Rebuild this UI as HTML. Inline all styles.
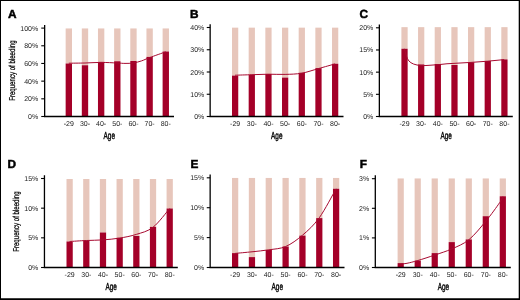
<!DOCTYPE html>
<html><head><meta charset="utf-8"><style>
html,body{margin:0;padding:0;background:#fff;}
body{width:520px;height:300px;overflow:hidden;position:relative;font-family:"Liberation Sans",sans-serif;}
svg{position:absolute;left:0;top:0;will-change:transform;}
text{text-rendering:geometricPrecision;}
.t{font-family:"Liberation Sans",sans-serif;font-size:7.0px;fill:#1c1c1c;}
.c{font-family:"Liberation Sans",sans-serif;font-size:10.2px;fill:#000;stroke:#000;stroke-width:0.4px;}
.y{font-family:"Liberation Sans",sans-serif;font-size:8.6px;fill:#000;stroke:#000;stroke-width:0.26px;}
.L{font-family:"Liberation Sans",sans-serif;font-size:11.8px;font-weight:bold;fill:#000;stroke:#000;stroke-width:0.5px;}
</style></head><body>
<svg width="520" height="300" viewBox="0 0 520 300">
<rect x="0" y="0" width="520" height="300" fill="#fff"/>
<rect x="65.65" y="28.45" width="6.35" height="35.05" fill="#e7c6bb"/>
<rect x="65.65" y="63.50" width="6.35" height="52.70" fill="#a40028"/>
<rect x="81.81" y="28.45" width="6.35" height="36.80" fill="#e7c6bb"/>
<rect x="81.81" y="65.25" width="6.35" height="50.95" fill="#a40028"/>
<rect x="97.97" y="28.45" width="6.35" height="33.45" fill="#e7c6bb"/>
<rect x="97.97" y="61.90" width="6.35" height="54.30" fill="#a40028"/>
<rect x="114.13" y="28.45" width="6.35" height="32.80" fill="#e7c6bb"/>
<rect x="114.13" y="61.25" width="6.35" height="54.95" fill="#a40028"/>
<rect x="130.29" y="28.45" width="6.35" height="32.55" fill="#e7c6bb"/>
<rect x="130.29" y="61.00" width="6.35" height="55.20" fill="#a40028"/>
<rect x="146.45" y="28.45" width="6.35" height="28.45" fill="#e7c6bb"/>
<rect x="146.45" y="56.90" width="6.35" height="59.30" fill="#a40028"/>
<rect x="162.61" y="28.45" width="6.35" height="23.05" fill="#e7c6bb"/>
<rect x="162.61" y="51.50" width="6.35" height="64.70" fill="#a40028"/>
<path d="M68.80 63.20 C71.50 63.17 79.63 63.13 85.00 63.00 C90.37 62.87 95.63 62.40 101.00 62.40 C106.37 62.40 113.20 62.83 117.20 63.00 C121.20 63.17 122.32 63.40 125.00 63.40 C127.68 63.40 130.55 63.42 133.30 63.00 C136.05 62.58 138.78 61.80 141.50 60.90 C144.22 60.00 145.55 59.12 149.60 57.60 C153.65 56.08 163.10 52.77 165.80 51.80" fill="none" stroke="#a80a30" stroke-width="1.0"/>
<path d="M44.65 25.00 V116.50 H174.00" fill="none" stroke="#000" stroke-width="1.3"/>
<path d="M41.25 116.50 H44.65" stroke="#000" stroke-width="1.1"/>
<text x="38.20" y="119.00" text-anchor="end" class="t">0%</text>
<path d="M41.25 98.82 H44.65" stroke="#000" stroke-width="1.1"/>
<text x="38.20" y="101.32" text-anchor="end" class="t">20%</text>
<path d="M41.25 81.14 H44.65" stroke="#000" stroke-width="1.1"/>
<text x="38.20" y="83.64" text-anchor="end" class="t">40%</text>
<path d="M41.25 63.46 H44.65" stroke="#000" stroke-width="1.1"/>
<text x="38.20" y="65.96" text-anchor="end" class="t">60%</text>
<path d="M41.25 45.78 H44.65" stroke="#000" stroke-width="1.1"/>
<text x="38.20" y="48.28" text-anchor="end" class="t">80%</text>
<path d="M41.25 28.10 H44.65" stroke="#000" stroke-width="1.1"/>
<text x="38.20" y="30.60" text-anchor="end" class="t">100%</text>
<text x="68.83" y="125.90" text-anchor="middle" class="t">-29</text>
<text x="84.98" y="125.90" text-anchor="middle" class="t">30-</text>
<text x="101.14" y="125.90" text-anchor="middle" class="t">40-</text>
<text x="117.31" y="125.90" text-anchor="middle" class="t">50-</text>
<text x="133.47" y="125.90" text-anchor="middle" class="t">60-</text>
<text x="149.62" y="125.90" text-anchor="middle" class="t">70-</text>
<text x="165.79" y="125.90" text-anchor="middle" class="t">80-</text>
<text transform="translate(109.25 139.00) scale(0.63 1)" text-anchor="middle" class="c">Age</text>
<text x="7.90" y="17.55" class="L">A</text>
<text transform="translate(15.00 70.65) rotate(-90) scale(0.71 1)" text-anchor="middle" class="y">Frequency of bleeding</text>
<rect x="232.00" y="27.65" width="6.25" height="47.95" fill="#e7c6bb"/>
<rect x="232.00" y="75.60" width="6.25" height="40.60" fill="#a40028"/>
<rect x="248.67" y="27.65" width="6.25" height="47.10" fill="#e7c6bb"/>
<rect x="248.67" y="74.75" width="6.25" height="41.45" fill="#a40028"/>
<rect x="265.34" y="27.65" width="6.25" height="46.35" fill="#e7c6bb"/>
<rect x="265.34" y="74.00" width="6.25" height="42.20" fill="#a40028"/>
<rect x="282.01" y="27.65" width="6.25" height="49.95" fill="#e7c6bb"/>
<rect x="282.01" y="77.60" width="6.25" height="38.60" fill="#a40028"/>
<rect x="298.68" y="27.65" width="6.25" height="45.10" fill="#e7c6bb"/>
<rect x="298.68" y="72.75" width="6.25" height="43.45" fill="#a40028"/>
<rect x="315.35" y="27.65" width="6.25" height="40.45" fill="#e7c6bb"/>
<rect x="315.35" y="68.10" width="6.25" height="48.10" fill="#a40028"/>
<rect x="332.02" y="27.65" width="6.25" height="36.10" fill="#e7c6bb"/>
<rect x="332.02" y="63.75" width="6.25" height="52.45" fill="#a40028"/>
<path d="M235.10 75.20 C237.90 75.12 246.33 74.87 251.90 74.70 C257.47 74.53 262.97 74.25 268.50 74.20 C274.03 74.15 279.57 74.57 285.10 74.40 C290.63 74.23 296.15 74.17 301.70 73.20 C307.25 72.23 312.83 70.15 318.40 68.60 C323.97 67.05 332.32 64.68 335.10 63.90" fill="none" stroke="#a80a30" stroke-width="1.0"/>
<path d="M210.15 24.20 V116.50 H343.50" fill="none" stroke="#000" stroke-width="1.3"/>
<path d="M206.75 116.50 H210.15" stroke="#000" stroke-width="1.1"/>
<text x="204.30" y="119.00" text-anchor="end" class="t">0%</text>
<path d="M206.75 94.25 H210.15" stroke="#000" stroke-width="1.1"/>
<text x="204.30" y="96.75" text-anchor="end" class="t">10%</text>
<path d="M206.75 72.00 H210.15" stroke="#000" stroke-width="1.1"/>
<text x="204.30" y="74.50" text-anchor="end" class="t">20%</text>
<path d="M206.75 49.75 H210.15" stroke="#000" stroke-width="1.1"/>
<text x="204.30" y="52.25" text-anchor="end" class="t">30%</text>
<path d="M206.75 27.50 H210.15" stroke="#000" stroke-width="1.1"/>
<text x="204.30" y="30.00" text-anchor="end" class="t">40%</text>
<text x="235.12" y="125.90" text-anchor="middle" class="t">-29</text>
<text x="251.80" y="125.90" text-anchor="middle" class="t">30-</text>
<text x="268.47" y="125.90" text-anchor="middle" class="t">40-</text>
<text x="285.13" y="125.90" text-anchor="middle" class="t">50-</text>
<text x="301.81" y="125.90" text-anchor="middle" class="t">60-</text>
<text x="318.48" y="125.90" text-anchor="middle" class="t">70-</text>
<text x="335.14" y="125.90" text-anchor="middle" class="t">80-</text>
<text transform="translate(276.75 139.00) scale(0.63 1)" text-anchor="middle" class="c">Age</text>
<text x="189.90" y="17.55" class="L">B</text>
<rect x="401.40" y="27.15" width="6.25" height="21.60" fill="#e7c6bb"/>
<rect x="401.40" y="48.75" width="6.25" height="67.45" fill="#a40028"/>
<rect x="418.05" y="27.15" width="6.25" height="37.25" fill="#e7c6bb"/>
<rect x="418.05" y="64.40" width="6.25" height="51.80" fill="#a40028"/>
<rect x="434.70" y="27.15" width="6.25" height="36.85" fill="#e7c6bb"/>
<rect x="434.70" y="64.00" width="6.25" height="52.20" fill="#a40028"/>
<rect x="451.35" y="27.15" width="6.25" height="37.85" fill="#e7c6bb"/>
<rect x="451.35" y="65.00" width="6.25" height="51.20" fill="#a40028"/>
<rect x="468.00" y="27.15" width="6.25" height="35.10" fill="#e7c6bb"/>
<rect x="468.00" y="62.25" width="6.25" height="53.95" fill="#a40028"/>
<rect x="484.65" y="27.15" width="6.25" height="33.85" fill="#e7c6bb"/>
<rect x="484.65" y="61.00" width="6.25" height="55.20" fill="#a40028"/>
<rect x="501.30" y="27.15" width="6.25" height="32.25" fill="#e7c6bb"/>
<rect x="501.30" y="59.40" width="6.25" height="56.80" fill="#a40028"/>
<path d="M404.4 48.75 C405.5 53 406.5 56.5 407.5 58.75 C409 62 412 64 417 65 C420 65.6 424 65.7 428 65.4 C432 65.1 436 64.8 440 64.5 L447 63.75 L471 62.4 L487.6 61.2 L504.2 59.6" fill="none" stroke="#a80a30" stroke-width="1.0"/>
<path d="M379.35 24.50 V116.50 H512.80" fill="none" stroke="#000" stroke-width="1.3"/>
<path d="M375.95 116.50 H379.35" stroke="#000" stroke-width="1.1"/>
<text x="373.30" y="119.00" text-anchor="end" class="t">0%</text>
<path d="M375.95 94.32 H379.35" stroke="#000" stroke-width="1.1"/>
<text x="373.30" y="96.82" text-anchor="end" class="t">5%</text>
<path d="M375.95 72.15 H379.35" stroke="#000" stroke-width="1.1"/>
<text x="373.30" y="74.65" text-anchor="end" class="t">10%</text>
<path d="M375.95 49.97 H379.35" stroke="#000" stroke-width="1.1"/>
<text x="373.30" y="52.47" text-anchor="end" class="t">15%</text>
<path d="M375.95 27.80 H379.35" stroke="#000" stroke-width="1.1"/>
<text x="373.30" y="30.30" text-anchor="end" class="t">20%</text>
<text x="404.52" y="125.90" text-anchor="middle" class="t">-29</text>
<text x="421.17" y="125.90" text-anchor="middle" class="t">30-</text>
<text x="437.82" y="125.90" text-anchor="middle" class="t">40-</text>
<text x="454.47" y="125.90" text-anchor="middle" class="t">50-</text>
<text x="471.12" y="125.90" text-anchor="middle" class="t">60-</text>
<text x="487.77" y="125.90" text-anchor="middle" class="t">70-</text>
<text x="504.42" y="125.90" text-anchor="middle" class="t">80-</text>
<text transform="translate(446.10 139.00) scale(0.63 1)" text-anchor="middle" class="c">Age</text>
<text x="359.40" y="17.50" class="L">C</text>
<rect x="66.50" y="179.00" width="6.25" height="62.50" fill="#e7c6bb"/>
<rect x="66.50" y="241.50" width="6.25" height="25.70" fill="#a40028"/>
<rect x="83.18" y="179.00" width="6.25" height="61.60" fill="#e7c6bb"/>
<rect x="83.18" y="240.60" width="6.25" height="26.60" fill="#a40028"/>
<rect x="99.86" y="179.00" width="6.25" height="53.50" fill="#e7c6bb"/>
<rect x="99.86" y="232.50" width="6.25" height="34.70" fill="#a40028"/>
<rect x="116.54" y="179.00" width="6.25" height="58.75" fill="#e7c6bb"/>
<rect x="116.54" y="237.75" width="6.25" height="29.45" fill="#a40028"/>
<rect x="133.22" y="179.00" width="6.25" height="57.00" fill="#e7c6bb"/>
<rect x="133.22" y="236.00" width="6.25" height="31.20" fill="#a40028"/>
<rect x="149.90" y="179.00" width="6.25" height="47.90" fill="#e7c6bb"/>
<rect x="149.90" y="226.90" width="6.25" height="40.30" fill="#a40028"/>
<rect x="166.58" y="179.00" width="6.25" height="29.50" fill="#e7c6bb"/>
<rect x="166.58" y="208.50" width="6.25" height="58.70" fill="#a40028"/>
<path d="M69.60 241.50 C72.37 241.33 80.65 240.77 86.20 240.50 C91.75 240.23 97.35 240.30 102.90 239.90 C108.45 239.50 113.93 239.02 119.50 238.10 C125.07 237.18 130.72 236.20 136.30 234.40 C141.88 232.60 147.43 231.62 153.00 227.30 C158.57 222.98 166.92 211.63 169.70 208.50" fill="none" stroke="#a80a30" stroke-width="1.0"/>
<path d="M44.45 175.20 V267.50 H177.80" fill="none" stroke="#000" stroke-width="1.3"/>
<path d="M41.05 267.50 H44.45" stroke="#000" stroke-width="1.1"/>
<text x="38.30" y="270.00" text-anchor="end" class="t">0%</text>
<path d="M41.05 237.83 H44.45" stroke="#000" stroke-width="1.1"/>
<text x="38.30" y="240.33" text-anchor="end" class="t">5%</text>
<path d="M41.05 208.17 H44.45" stroke="#000" stroke-width="1.1"/>
<text x="38.30" y="210.67" text-anchor="end" class="t">10%</text>
<path d="M41.05 178.50 H44.45" stroke="#000" stroke-width="1.1"/>
<text x="38.30" y="181.00" text-anchor="end" class="t">15%</text>
<text x="69.62" y="276.90" text-anchor="middle" class="t">-29</text>
<text x="86.31" y="276.90" text-anchor="middle" class="t">30-</text>
<text x="102.98" y="276.90" text-anchor="middle" class="t">40-</text>
<text x="119.66" y="276.90" text-anchor="middle" class="t">50-</text>
<text x="136.34" y="276.90" text-anchor="middle" class="t">60-</text>
<text x="153.03" y="276.90" text-anchor="middle" class="t">70-</text>
<text x="169.70" y="276.90" text-anchor="middle" class="t">80-</text>
<text transform="translate(111.10 290.00) scale(0.63 1)" text-anchor="middle" class="c">Age</text>
<text x="7.60" y="167.75" class="L">D</text>
<text transform="translate(18.70 221.60) rotate(-90) scale(0.71 1)" text-anchor="middle" class="y">Frequency of bleeding</text>
<rect x="232.00" y="177.95" width="6.25" height="75.15" fill="#e7c6bb"/>
<rect x="232.00" y="253.10" width="6.25" height="14.10" fill="#a40028"/>
<rect x="248.83" y="177.95" width="6.25" height="79.15" fill="#e7c6bb"/>
<rect x="248.83" y="257.10" width="6.25" height="10.10" fill="#a40028"/>
<rect x="265.66" y="177.95" width="6.25" height="72.05" fill="#e7c6bb"/>
<rect x="265.66" y="250.00" width="6.25" height="17.20" fill="#a40028"/>
<rect x="282.49" y="177.95" width="6.25" height="68.55" fill="#e7c6bb"/>
<rect x="282.49" y="246.50" width="6.25" height="20.70" fill="#a40028"/>
<rect x="299.32" y="177.95" width="6.25" height="57.65" fill="#e7c6bb"/>
<rect x="299.32" y="235.60" width="6.25" height="31.60" fill="#a40028"/>
<rect x="316.15" y="177.95" width="6.25" height="40.15" fill="#e7c6bb"/>
<rect x="316.15" y="218.10" width="6.25" height="49.10" fill="#a40028"/>
<rect x="332.98" y="177.95" width="6.25" height="10.80" fill="#e7c6bb"/>
<rect x="332.98" y="188.75" width="6.25" height="78.45" fill="#a40028"/>
<path d="M235.10 253.40 C237.92 253.13 246.37 252.40 252.00 251.80 C257.63 251.20 263.28 250.68 268.90 249.80 C274.52 248.92 280.10 248.93 285.70 246.50 C291.30 244.07 296.91 239.98 302.50 235.20 C308.09 230.42 313.65 225.54 319.25 217.80 C324.85 210.06 333.29 193.59 336.10 188.75" fill="none" stroke="#a80a30" stroke-width="1.0"/>
<path d="M210.15 174.50 V267.50 H344.50" fill="none" stroke="#000" stroke-width="1.3"/>
<path d="M206.75 267.50 H210.15" stroke="#000" stroke-width="1.1"/>
<text x="204.20" y="270.00" text-anchor="end" class="t">0%</text>
<path d="M206.75 237.60 H210.15" stroke="#000" stroke-width="1.1"/>
<text x="204.20" y="240.10" text-anchor="end" class="t">5%</text>
<path d="M206.75 207.70 H210.15" stroke="#000" stroke-width="1.1"/>
<text x="204.20" y="210.20" text-anchor="end" class="t">10%</text>
<path d="M206.75 177.80 H210.15" stroke="#000" stroke-width="1.1"/>
<text x="204.20" y="180.30" text-anchor="end" class="t">15%</text>
<text x="235.12" y="276.90" text-anchor="middle" class="t">-29</text>
<text x="251.95" y="276.90" text-anchor="middle" class="t">30-</text>
<text x="268.78" y="276.90" text-anchor="middle" class="t">40-</text>
<text x="285.62" y="276.90" text-anchor="middle" class="t">50-</text>
<text x="302.44" y="276.90" text-anchor="middle" class="t">60-</text>
<text x="319.27" y="276.90" text-anchor="middle" class="t">70-</text>
<text x="336.11" y="276.90" text-anchor="middle" class="t">80-</text>
<text transform="translate(277.25 290.00) scale(0.63 1)" text-anchor="middle" class="c">Age</text>
<text x="190.40" y="167.55" class="L">E</text>
<rect x="397.60" y="178.45" width="6.20" height="84.65" fill="#e7c6bb"/>
<rect x="397.60" y="263.10" width="6.20" height="4.10" fill="#a40028"/>
<rect x="414.62" y="178.45" width="6.20" height="82.15" fill="#e7c6bb"/>
<rect x="414.62" y="260.60" width="6.20" height="6.60" fill="#a40028"/>
<rect x="431.64" y="178.45" width="6.20" height="74.65" fill="#e7c6bb"/>
<rect x="431.64" y="253.10" width="6.20" height="14.10" fill="#a40028"/>
<rect x="448.66" y="178.45" width="6.20" height="63.65" fill="#e7c6bb"/>
<rect x="448.66" y="242.10" width="6.20" height="25.10" fill="#a40028"/>
<rect x="465.68" y="178.45" width="6.20" height="60.95" fill="#e7c6bb"/>
<rect x="465.68" y="239.40" width="6.20" height="27.80" fill="#a40028"/>
<rect x="482.70" y="178.45" width="6.20" height="37.75" fill="#e7c6bb"/>
<rect x="482.70" y="216.20" width="6.20" height="51.00" fill="#a40028"/>
<rect x="499.72" y="178.45" width="6.20" height="17.80" fill="#e7c6bb"/>
<rect x="499.72" y="196.25" width="6.20" height="70.95" fill="#a40028"/>
<path d="M400.70 264.00 C401.75 263.88 404.13 263.88 407.00 263.30 C409.87 262.72 413.25 261.88 417.90 260.50 C422.55 259.12 429.25 256.93 434.90 255.00 C440.55 253.07 446.13 251.45 451.80 248.90 C457.47 246.35 463.23 244.32 468.90 239.70 C474.57 235.08 480.66 227.40 485.80 221.20 C490.94 215.00 496.92 206.62 499.75 202.50 C502.58 198.38 502.29 197.50 502.80 196.50" fill="none" stroke="#a80a30" stroke-width="1.0"/>
<path d="M375.30 175.20 V267.50 H510.80" fill="none" stroke="#000" stroke-width="1.3"/>
<path d="M371.90 267.50 H375.30" stroke="#000" stroke-width="1.1"/>
<text x="369.20" y="270.00" text-anchor="end" class="t">0%</text>
<path d="M371.90 237.90 H375.30" stroke="#000" stroke-width="1.1"/>
<text x="369.20" y="240.40" text-anchor="end" class="t">1%</text>
<path d="M371.90 208.30 H375.30" stroke="#000" stroke-width="1.1"/>
<text x="369.20" y="210.80" text-anchor="end" class="t">2%</text>
<path d="M371.90 178.70 H375.30" stroke="#000" stroke-width="1.1"/>
<text x="369.20" y="181.20" text-anchor="end" class="t">3%</text>
<text x="400.70" y="276.90" text-anchor="middle" class="t">-29</text>
<text x="417.72" y="276.90" text-anchor="middle" class="t">30-</text>
<text x="434.74" y="276.90" text-anchor="middle" class="t">40-</text>
<text x="451.76" y="276.90" text-anchor="middle" class="t">50-</text>
<text x="468.78" y="276.90" text-anchor="middle" class="t">60-</text>
<text x="485.80" y="276.90" text-anchor="middle" class="t">70-</text>
<text x="502.82" y="276.90" text-anchor="middle" class="t">80-</text>
<text transform="translate(443.35 290.00) scale(0.63 1)" text-anchor="middle" class="c">Age</text>
<text x="359.80" y="167.55" class="L">F</text>
<path d="M0 0H520V300H0Z M1 1V298.3H518.7V1Z" fill="#000" fill-rule="evenodd"/>
</svg>
</body></html>
